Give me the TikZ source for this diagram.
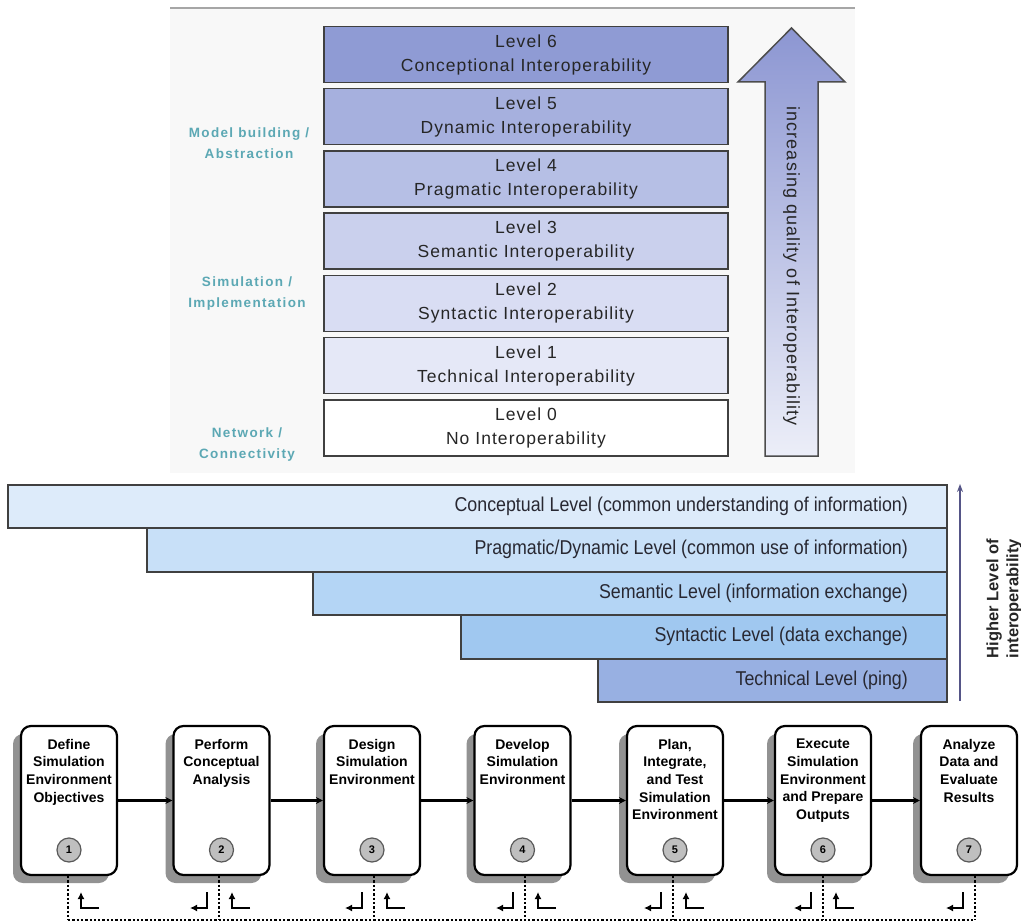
\documentclass[tikz,border=0pt]{standalone}
\usepackage{fontspec}
\setmainfont{Liberation Sans}
\newfontfamily\lvlfont[LetterSpace=6]{Liberation Sans}
\newfontfamily\lblfont[LetterSpace=10]{Liberation Sans}
\newfontfamily\narrowfont[FakeStretch=0.89]{Liberation Sans}
\usetikzlibrary{arrows.meta,shadows}
\definecolor{lv6}{RGB}{143,155,212}
\definecolor{lv5}{RGB}{166,176,222}
\definecolor{lv4}{RGB}{182,191,229}
\definecolor{lv3}{RGB}{202,208,237}
\definecolor{lv2}{RGB}{217,221,243}
\definecolor{lv1}{RGB}{229,232,247}
\definecolor{lv0}{RGB}{255,255,255}
\definecolor{labelteal}{RGB}{92,168,180}
\definecolor{bara}{RGB}{221,235,250}
\definecolor{barb}{RGB}{200,224,248}
\definecolor{barc}{RGB}{180,213,245}
\definecolor{bard}{RGB}{160,200,240}
\definecolor{bare}{RGB}{152,176,226}
\definecolor{bartxt}{RGB}{40,40,50}
\definecolor{arrowtop}{RGB}{140,150,210}
\definecolor{arrowbot}{RGB}{236,238,248}
\definecolor{topbg}{RGB}{248,248,248}
\definecolor{hlarrow}{RGB}{85,85,135}
\tikzset{
  level/.style={draw=black!75, line width=1.6pt, minimum width=404pt, minimum height=56pt,
    inner sep=0pt, align=center, text=black!85, font=\lvlfont\fontsize{17.5}{24}\selectfont},
  side/.style={align=center, text=labelteal, inner sep=0pt, font=\lblfont\bfseries\fontsize{13.5}{21}\selectfont},
  bar/.style={draw=black!75, line width=1.6pt, anchor=north east, inner sep=0pt},
  bartext/.style={anchor=east, inner sep=0pt, text=bartxt, font=\narrowfont\fontsize{20}{24}\selectfont},
  procbox/.style={draw=black, line width=2.2pt, rounded corners=10pt, fill=white,
    minimum width=96pt, minimum height=149pt, inner sep=0pt,
    drop shadow={shadow xshift=-8pt, shadow yshift=-8pt, fill=black!50, opacity=0.85}},
  proctext/.style={anchor=north, align=center, inner sep=0pt, font=\bfseries\fontsize{14}{17.6}\selectfont},
  numcirc/.style={circle, draw=black!65, line width=1.2pt, fill=black!25, minimum size=24pt, inner sep=0pt,
    font=\bfseries\fontsize{11}{12}\selectfont},
  conn/.style={line width=2.4pt, -{Stealth[length=7pt,width=7pt]}},
  dotline/.style={line width=2.3pt, dash pattern=on 2.3pt off 2pt},
  glyph/.style={line width=2pt, -{Latex[length=7pt,width=7pt]}}
}
\begin{document}
\begin{tikzpicture}[x=1pt,y=-1pt]
\useasboundingbox (0,0) rectangle (1021,923);
\fill[white] (0,0) rectangle (1021,923);
% ---------- top section ----------
\fill[topbg] (170,8) rectangle (855,473);
\draw[black!35, line width=2pt] (170,8) -- (855,8);
\node[level, fill=lv6] (L6) at (526,54.5) {Level 6\\Conceptional Interoperability};
\node[level, fill=lv5] (L5) at (526,116.7) {Level 5\\Dynamic Interoperability};
\node[level, fill=lv4] (L4) at (526,178.9) {Level 4\\Pragmatic Interoperability};
\node[level, fill=lv3] (L3) at (526,241.1) {Level 3\\Semantic Interoperability};
\node[level, fill=lv2] (L2) at (526,303.3) {Level 2\\Syntactic Interoperability};
\node[level, fill=lv1] (L1) at (526,365.5) {Level 1\\Technical Interoperability};
\node[level, fill=lv0] (L0) at (526,427.7) {Level 0\\No Interoperability};
\node[side] (M1) at (249,143) {Model building /\\Abstraction};
\node[side] (M2) at (247,293.5) {Simulation /\\Implementation};
\node[side] (M3) at (247,445) {Network /\\Connectivity};
\draw[draw=black!70, line width=1.5pt, top color=arrowtop, bottom color=arrowbot]
  (791.5,28) -- (845,82) -- (818,82) -- (818,456) -- (765,456) -- (765,82) -- (738,82) -- cycle;
\node[rotate=-90, inner sep=0pt, text=black!85, font=\lvlfont\fontsize{18}{20}\selectfont] (Q) at (791.5,266)
  {increasing quality of Interoperability};
% ---------- middle section ----------
\node[bar, fill=bara, minimum width=939pt, minimum height=43pt] (B1) at (948,484) {};
\node[bar, fill=barb, minimum width=800pt, minimum height=44pt] (B2) at (948,527) {};
\node[bar, fill=barc, minimum width=634pt, minimum height=43pt] (B3) at (948,571) {};
\node[bar, fill=bard, minimum width=486pt, minimum height=44pt] (B4) at (948,614) {};
\node[bar, fill=bare, minimum width=349pt, minimum height=43pt] (B5) at (948,658) {};
\node[bartext] (T1) at (908,506) {Conceptual Level (common understanding of information)};
\node[bartext] (T2) at (908,549.5) {Pragmatic/Dynamic Level (common use of information)};
\node[bartext] (T3) at (908,593) {Semantic Level (information exchange)};
\node[bartext] (T4) at (908,636.5) {Syntactic Level (data exchange)};
\node[bartext] (T5) at (908,680) {Technical Level (ping)};
\coordinate (HB) at (960,701);
\coordinate (HT) at (960,484);
\draw[hlarrow, line width=1.5pt, -{Stealth[length=8pt,width=6pt]}] (HB) -- (HT);
\node[rotate=90, align=center, inner sep=0pt, text=black!85, font=\bfseries\fontsize{16.5}{20}\selectfont] (HL) at (1004,598.5)
  {Higher Level of\\interoperability};
% ---------- bottom section ----------
\node[procbox] (P1) at (69,800.5) {};
\node[procbox] (P2) at (221.5,800.5) {};
\node[procbox] (P3) at (372,800.5) {};
\node[procbox] (P4) at (522.5,800.5) {};
\node[procbox] (P5) at (675,800.5) {};
\node[procbox] (P6) at (823,800.5) {};
\node[procbox] (P7) at (969,800.5) {};
\node[proctext] (X1) at (69,739) {Define\\Simulation\\Environment\\Objectives};
\node[proctext] (X2) at (221.5,739) {Perform\\Conceptual\\Analysis};
\node[proctext] (X3) at (372,739) {Design\\Simulation\\Environment};
\node[proctext] (X4) at (522.5,739) {Develop\\Simulation\\Environment};
\node[proctext] (X5) at (675,739) {Plan,\\Integrate,\\and Test\\Simulation\\Environment};
\node[proctext] (X6) at (823,739) {Execute\\Simulation\\Environment\\and Prepare\\Outputs};
\node[proctext] (X7) at (969,739) {Analyze\\Data and\\Evaluate\\Results};
\node[numcirc] (N1) at (69,850) {1};
\node[numcirc] (N2) at (221.5,850) {2};
\node[numcirc] (N3) at (372,850) {3};
\node[numcirc] (N4) at (522.5,850) {4};
\node[numcirc] (N5) at (675,850) {5};
\node[numcirc] (N6) at (823,850) {6};
\node[numcirc] (N7) at (969,850) {7};
\draw[conn] (P1.east) -- (P2.west);
\draw[conn] (P2.east) -- (P3.west);
\draw[conn] (P3.east) -- (P4.west);
\draw[conn] (P4.east) -- (P5.west);
\draw[conn] (P5.east) -- (P6.west);
\draw[conn] (P6.east) -- (P7.west);
\coordinate (D1) at (68,920);
\coordinate (D2) at (219,920);
\coordinate (D3) at (374,920);
\coordinate (D4) at (525,920);
\coordinate (D5) at (673,920);
\coordinate (D6) at (823,920);
\coordinate (D7) at (975,920);
\draw[dotline] (D1 |- P1.south) -- (D1);
\draw[dotline] (D2 |- P2.south) -- (D2);
\draw[dotline] (D3 |- P3.south) -- (D3);
\draw[dotline] (D4 |- P4.south) -- (D4);
\draw[dotline] (D5 |- P5.south) -- (D5);
\draw[dotline] (D6 |- P6.south) -- (D6);
\draw[dotline] (D7 |- P7.south) -- (D7);
\draw[dotline] (D1) -- (D7);
% return glyphs
\draw[glyph] ([shift={(31,-12)}]D1) -- ++(-18,0) -- ++(0,-16);
\draw[glyph] ([shift={(31,-12)}]D2) -- ++(-18,0) -- ++(0,-16);
\draw[glyph] ([shift={(31,-12)}]D3) -- ++(-18,0) -- ++(0,-16);
\draw[glyph] ([shift={(31,-12)}]D4) -- ++(-18,0) -- ++(0,-16);
\draw[glyph] ([shift={(31,-12)}]D5) -- ++(-18,0) -- ++(0,-16);
\draw[glyph] ([shift={(31,-12)}]D6) -- ++(-18,0) -- ++(0,-16);
\draw[glyph] ([shift={(-12,-28)}]D2) -- ++(0,16) -- ++(-17,0);
\draw[glyph] ([shift={(-12,-28)}]D3) -- ++(0,16) -- ++(-17,0);
\draw[glyph] ([shift={(-12,-28)}]D4) -- ++(0,16) -- ++(-17,0);
\draw[glyph] ([shift={(-12,-28)}]D5) -- ++(0,16) -- ++(-17,0);
\draw[glyph] ([shift={(-12,-28)}]D6) -- ++(0,16) -- ++(-17,0);
\draw[glyph] ([shift={(-12,-28)}]D7) -- ++(0,16) -- ++(-17,0);
\end{tikzpicture}
\end{document}
